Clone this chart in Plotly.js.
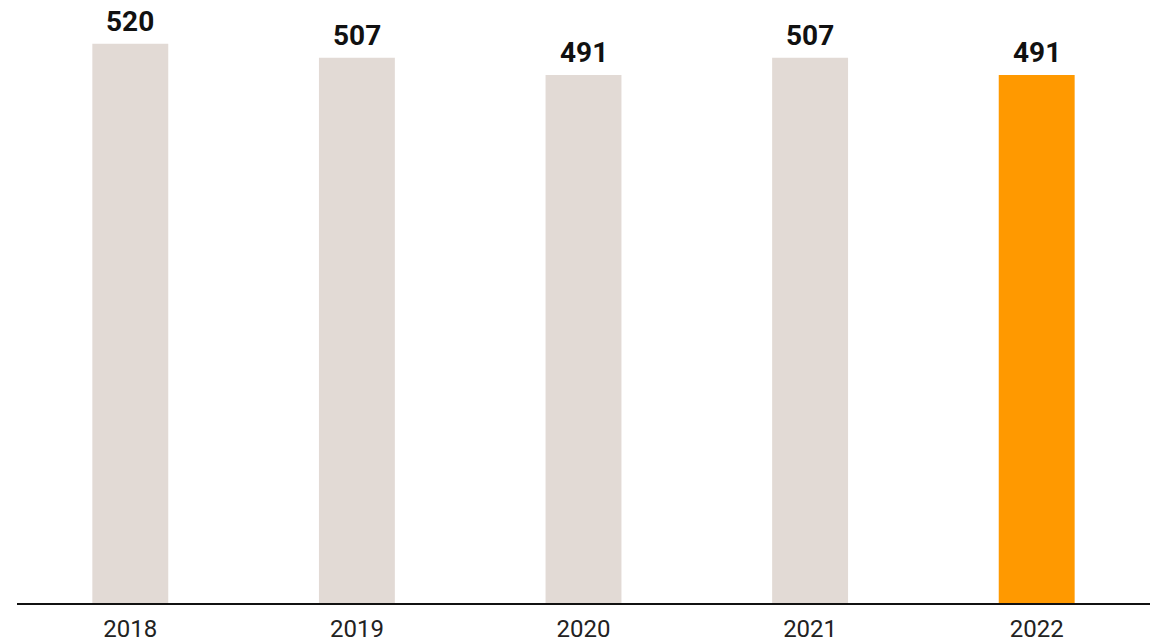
<!DOCTYPE html>
<html><head><meta charset="utf-8">
<script src="https://cdn.plot.ly/plotly-3.0.1.min.js"></script>
<style>html,body{margin:0;padding:0;background:#fff}#chart{width:1160px;height:643px}</style>
</head><body><div id="chart"></div>
<script>
const years = ['2018','2019','2020','2021','2022'];
const values = [520, 507, 491, 507, 491];
const barColors = ['#E2DAD5','#E2DAD5','#E2DAD5','#E2DAD5','#FF9900'];
const xpos = years.map((_, i) => i);

const trace = {
  type: 'bar', x: xpos, y: values,
  marker: {color: barColors},
  width: 0.335,
  hoverinfo: 'none'
};
const annotations = xpos.map((x,i)=>({
  x: x, y: values[i], xref:'x', yref:'y', text: String(values[i]),
  showarrow:false, yanchor:'bottom', yshift: 4,
  font:{family:'Roboto, sans-serif', size:28, color:'#111', weight:700}
}));
const layout = {
  width:1160, height:643,
  margin:{l:17, r:10, t:0, b:40},
  paper_bgcolor:'#fff', plot_bgcolor:'#fff',
  showlegend:false,
  xaxis:{range:[-0.5,4.5], tickmode:'array', tickvals:xpos, ticktext:years,
    showgrid:false, zeroline:false, showline:true, linecolor:'#111', linewidth:2,
    ticks:'', ticklabelstandoff:3, tickfont:{family:'Roboto, sans-serif', size:24, color:'#222'}},
  yaxis:{range:[0,560.8], visible:false, showgrid:false, zeroline:false},
  annotations: annotations
};
Plotly.newPlot('chart',[trace],layout,{displayModeBar:false, staticPlot:true});
</script></body></html>
